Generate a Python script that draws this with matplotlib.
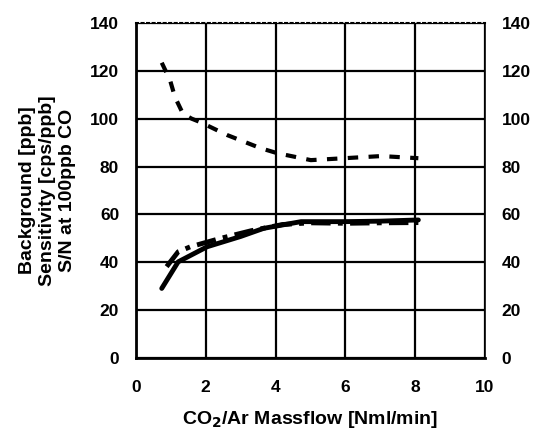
import matplotlib
matplotlib.use("Agg")
import matplotlib.pyplot as plt

# CO2/Ar massflow [Nml/min]
bg_flow = [0.74, 0.98, 1.12, 1.35, 1.6, 1.84, 2.61, 3.57, 4.05, 5.01, 5.97, 7.03, 8.09]
background = [123.4, 116.0, 109.0, 102.0, 100.0, 98.6, 93.2, 87.7, 85.6, 82.7, 83.5, 84.4, 83.5]

sens_flow = [0.74, 1.21, 2.04, 3.0, 3.66, 4.73, 5.97, 7.0, 8.09]
sensitivity = [29.1, 40.2, 46.5, 50.8, 54.2, 57.0, 57.0, 57.2, 57.7]

sn_flow = [0.88, 1.21, 1.56, 2.42, 3.3, 4.2, 5.0, 6.0, 7.0, 8.09]
sn_ratio = [38.2, 44.4, 46.5, 50.0, 53.2, 55.8, 56.5, 56.3, 56.5, 56.6]

x_ticks = [0, 2, 4, 6, 8, 10]
y_ticks = [0, 20, 40, 60, 80, 100, 120, 140]

plt.rcParams['font.family'] = ['Liberation Sans', 'DejaVu Sans']
plt.rcParams['font.weight'] = 'bold'

fig = plt.figure(figsize=(5.33, 4.34), dpi=100)
ax = fig.add_axes([0.255, 0.175, 0.655, 0.772])

ax.set_xlim(0, 10)
ax.set_ylim(0, 140)
ax.set_xticks(x_ticks)
ax.set_yticks(y_ticks)
ax.grid(True, color='black', linewidth=1.6)
ax.set_axisbelow(True)

ax.plot(bg_flow, background, color='black', linewidth=3, linestyle=(0, (2.5, 2.5)))
ax.plot(sens_flow, sensitivity, color='black', linewidth=3.5, solid_capstyle='round')
ax.plot(sn_flow, sn_ratio, color='black', linewidth=3.5, linestyle=(0, (4, 1.5, 1, 1.5)))

for side in ['left', 'bottom']:
    ax.spines[side].set_linewidth(2)
ax.spines['top'].set_linestyle(':')
ax.spines['top'].set_linewidth(1.5)
ax.spines['right'].set_linewidth(1.2)

ax.tick_params(axis='both', length=0, labelsize=12.5)
ax.tick_params(axis='x', pad=16)
ax.tick_params(axis='y', right=True, labelright=True, pad=12)

ax.set_xlabel('CO$_\\mathbf{2}$/Ar Massflow [Nml/min]', fontsize=14, fontweight='bold', labelpad=10)
ax.set_ylabel('Background [ppb]\nSensitivity [cps/ppb]\nS/N at 100ppb CO',
              fontsize=14, fontweight='bold', labelpad=10, linespacing=1.25)

fig.savefig('out.png', dpi=100)
